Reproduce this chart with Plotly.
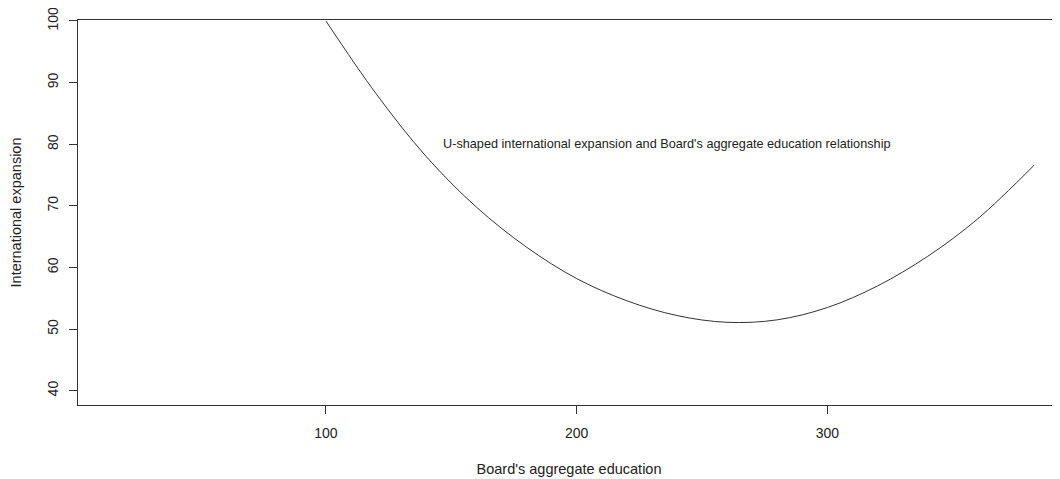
import plotly.graph_objects as go

# Data
education = [100, 120, 140, 160, 180, 200, 220, 240, 260, 280, 300, 320, 340, 360, 382.5]
expansion = [100, 88.2, 78.0, 69.8, 63.3, 58.2, 54.6, 52.2, 51.1, 51.5, 53.5, 57.0, 61.8, 67.9, 76.6]

x_ticks = [100, 200, 300]
y_ticks = [40, 50, 60, 70, 80, 90, 100]

annotation_text = "U-shaped international expansion and Board's aggregate education relationship"
x_title = "Board's aggregate education"
y_title = "International expansion"

font_family = "Liberation Sans, Arial, sans-serif"

fig = go.Figure()
fig.add_trace(go.Scatter(
    x=education, y=expansion, mode="lines",
    line=dict(color="#333333", width=1, shape="spline", smoothing=1.0),
    showlegend=False, hoverinfo="skip",
))

fig.add_annotation(
    x=236, y=80, text=annotation_text, showarrow=False,
    font=dict(family=font_family, size=12.7, color="#222222"),
    xanchor="center", yanchor="middle",
)

# page body has an 8px default margin, so the figure is offset accordingly
fig.update_layout(
    width=1052, height=471,
    margin=dict(l=70, r=0, t=12, b=74),
    paper_bgcolor="white", plot_bgcolor="white",
    font=dict(family=font_family, size=14, color="#222222"),
    showlegend=False,
)

fig.update_xaxes(
    range=[1.1, 392.8], tickvals=x_ticks, ticktext=[str(v) for v in x_ticks],
    showgrid=False, zeroline=False,
    showline=True, linecolor="#333333", linewidth=1, mirror=True,
    ticks="outside", ticklen=8, tickcolor="#333333", tickwidth=1,
    ticklabelstandoff=7, tickfont=dict(size=14), ticklabeloverflow="allow",
    title=dict(text=x_title, standoff=24, font=dict(size=14.5)),
)
fig.update_yaxes(
    range=[37.68, 100.16], tickvals=y_ticks, ticktext=[str(v) for v in y_ticks],
    showgrid=False, zeroline=False,
    showline=True, linecolor="#333333", linewidth=1, mirror=False,
    ticks="outside", ticklen=8, tickcolor="#333333", tickwidth=1,
    tickangle=-90, ticklabelstandoff=5, tickfont=dict(size=14),
    ticklabeloverflow="allow",
    title=dict(text=y_title, standoff=22, font=dict(size=14.5)),
)

fig.write_html("out.html")
